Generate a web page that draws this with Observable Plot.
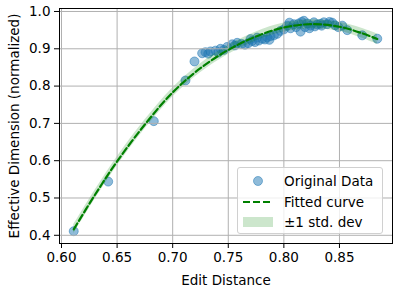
<!DOCTYPE html>
<html>
<head>
<meta charset="utf-8">
<script src="https://cdn.jsdelivr.net/npm/d3@7"></script>
<script src="https://cdn.jsdelivr.net/npm/@observablehq/plot@0.6"></script>
<style>
  body { margin: 0; background: #fff; }
  #wrap { position: relative; width: 397px; height: 292px; font-family: "DejaVu Sans", sans-serif; }
  #legend {
    position: absolute; left: 237px; top: 167px; width: 146px; height: 67px;
    border: 1px solid #d0d0d0; border-radius: 3px; background: rgba(255,255,255,0.8);
    box-sizing: border-box; font-size: 13.5px; color: #000;
  }
  .row { position: absolute; left: 0; height: 20px; display: flex; align-items: center; }
  .row span { position: absolute; left: 46px; white-space: nowrap; }
  .sw { position: absolute; }
</style>
</head>
<body>
<div id="wrap"></div>
<script>
// Original data points (Edit Distance, Effective Dimension normalized)
const pointX = [0.611, 0.642, 0.683, 0.7115, 0.7196, 0.7265, 0.7295, 0.732, 0.734, 0.7385,
  0.741, 0.743, 0.746, 0.749, 0.7535, 0.756, 0.758, 0.762, 0.765, 0.768,
  0.7715, 0.774, 0.7775, 0.7805, 0.783, 0.785, 0.788, 0.791, 0.794, 0.797,
  0.800, 0.803, 0.806, 0.809, 0.8134, 0.815, 0.818, 0.819, 0.821, 0.824,
  0.827, 0.830, 0.833, 0.836, 0.839, 0.8435, 0.846, 0.849, 0.8525, 0.857,
  0.8705, 0.884, 0.805, 0.811, 0.816, 0.823, 0.828, 0.834, 0.841, 0.776, 0.770, 0.787];
const pointY = [0.411, 0.544, 0.706, 0.815, 0.866, 0.888, 0.891, 0.887, 0.893, 0.895,
  0.890, 0.900, 0.897, 0.905, 0.912, 0.909, 0.916, 0.913, 0.911, 0.915,
  0.921, 0.918, 0.922, 0.927, 0.925, 0.931, 0.934, 0.936, 0.940, 0.948,
  0.952, 0.962, 0.955, 0.966, 0.968, 0.946, 0.975, 0.958, 0.968, 0.962,
  0.971, 0.965, 0.967, 0.971, 0.966, 0.970, 0.963, 0.958, 0.962, 0.950,
  0.936, 0.927, 0.970, 0.958, 0.972, 0.955, 0.960, 0.962, 0.972, 0.930, 0.926, 0.924];
// Fitted curve samples
const fitX = [0.611, 0.63, 0.65, 0.675, 0.70, 0.725, 0.75, 0.775, 0.80, 0.825, 0.85, 0.87, 0.884];
const fitY = [0.416, 0.508, 0.598, 0.697, 0.783, 0.848, 0.897, 0.933, 0.957, 0.966, 0.959, 0.942, 0.926];
const stdDev = [0.012, 0.012, 0.012, 0.012, 0.012, 0.012, 0.012, 0.012, 0.012, 0.012, 0.012, 0.013, 0.014];
const xTicks = [0.60, 0.65, 0.70, 0.75, 0.80, 0.85];
const yTicks = [0.4, 0.5, 0.6, 0.7, 0.8, 0.9, 1.0];
const legendLabels = ["Original Data", "Fitted curve", "\u00b11 std. dev"];

const points = pointX.map((x, i) => ({x, y: pointY[i]}));
const fit = fitX.map((x, i) => ({x, y: fitY[i], lo: fitY[i] - stdDev[i], hi: fitY[i] + stdDev[i]}));

const chart = Plot.plot({
  width: 397, height: 292,
  marginLeft: 59, marginRight: 5, marginTop: 8, marginBottom: 49,
  style: {fontFamily: "DejaVu Sans, sans-serif", fontSize: "13.5px", color: "#000", background: "#fff"},
  x: {domain: [0.5982, 0.8977]},
  y: {domain: [0.378, 1.008]},
  marks: [
    Plot.dot(points, {x: "x", y: "y", r: 4.5, fill: "#1f77b4", fillOpacity: 0.5, stroke: "#1f77b4", strokeOpacity: 0.5, strokeWidth: 1}),
    Plot.areaY(fit, {x: "x", y1: "lo", y2: "hi", fill: "green", fillOpacity: 0.2, curve: "catmull-rom"}),
    Plot.gridX(xTicks, {stroke: "#b0b0b0", strokeOpacity: 1, strokeWidth: 1}),
    Plot.gridY(yTicks, {stroke: "#b0b0b0", strokeOpacity: 1, strokeWidth: 1}),
    Plot.line(fit, {x: "x", y: "y", stroke: "green", strokeWidth: 2.2, strokeDasharray: "7,3", curve: "catmull-rom"}),
    Plot.frame({stroke: "#000", strokeWidth: 1}),
    Plot.axisX(xTicks, {tickFormat: d3.format(".2f"), tickSize: 5, tickPadding: 4, label: "Edit Distance", labelAnchor: "center", labelArrow: "none", labelOffset: 41}),
    Plot.axisY(yTicks, {tickFormat: d3.format(".1f"), tickSize: 5, tickPadding: 4, label: "Effective Dimension (normalized)", labelAnchor: "center", labelArrow: "none", labelOffset: 50})
  ]
});
const wrap = document.getElementById("wrap");
wrap.appendChild(chart);

// Legend
const leg = document.createElement("div");
leg.id = "legend";
const ys = [3, 24, 44];
legendLabels.forEach((t, i) => {
  const row = document.createElement("div");
  row.className = "row";
  row.style.top = ys[i] + "px";
  row.style.width = "146px";
  const sw = document.createElementNS("http://www.w3.org/2000/svg", "svg");
  sw.setAttribute("width", "30"); sw.setAttribute("height", "20");
  sw.setAttribute("class", "sw");
  sw.style.left = "5px"; sw.style.top = "0px";
  if (i === 0) {
    sw.innerHTML = '<circle cx="15" cy="10" r="4.5" fill="#1f77b4" fill-opacity="0.5" stroke="#1f77b4" stroke-opacity="0.5"/>';
  } else if (i === 1) {
    sw.innerHTML = '<line x1="0" x2="30" y1="10" y2="10" stroke="green" stroke-width="2.2" stroke-dasharray="7,3"/>';
  } else {
    sw.innerHTML = '<rect x="0" y="5" width="30" height="10" fill="green" fill-opacity="0.2"/>';
  }
  row.appendChild(sw);
  const s = document.createElement("span");
  s.textContent = t;
  row.appendChild(s);
  leg.appendChild(row);
});
wrap.appendChild(leg);
</script>
</body>
</html>
